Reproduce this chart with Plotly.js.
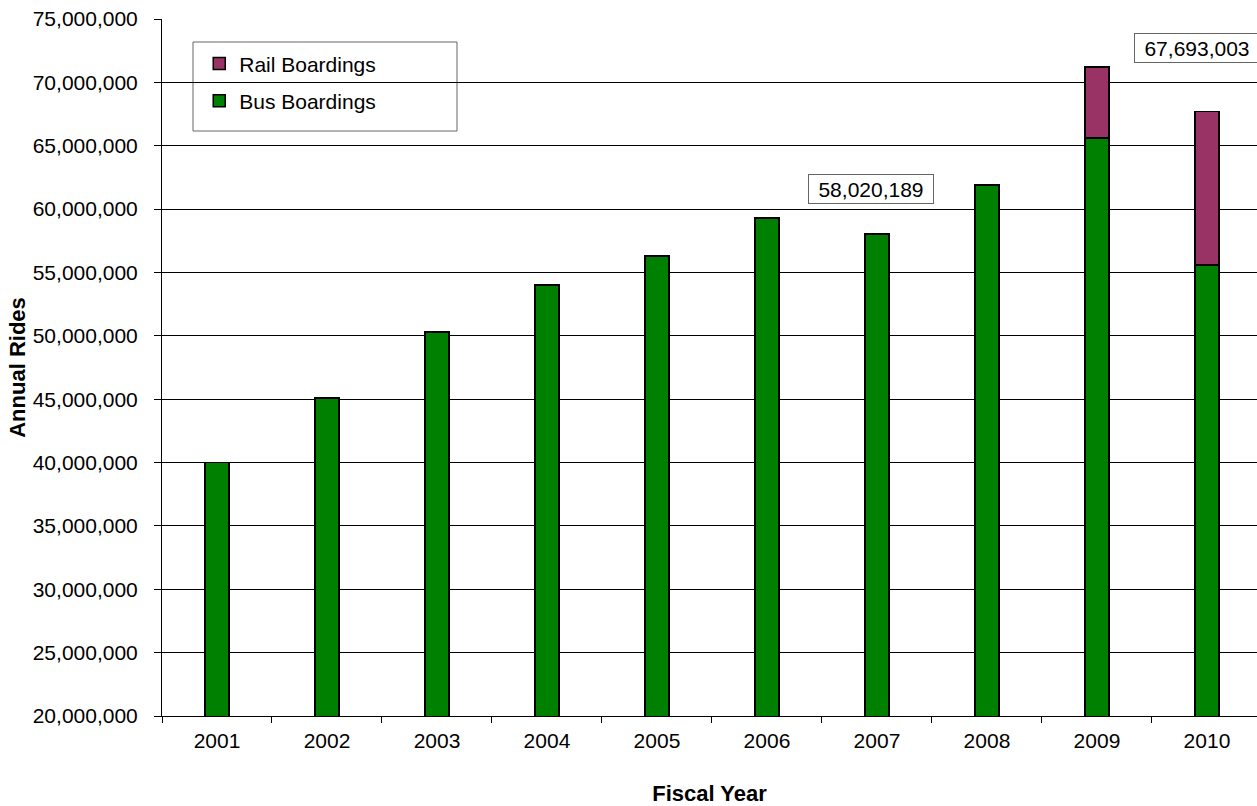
<!DOCTYPE html>
<html>
<head>
<meta charset="utf-8">
<script src="https://cdn.plot.ly/plotly-3.0.1.min.js"></script>
<style>
html,body{margin:0;padding:0;background:#fff;}
#chart{width:1257px;height:806px;}
</style>
</head>
<body>
<div id="chart"></div>
<script>
// Data
const years = ['2001','2002','2003','2004','2005','2006','2007','2008','2009','2010'];
const busBoardings = [40000000, 45100000, 50300000, 54000000, 56300000, 59300000, 58020189, 61900000, 65600000, 55600000];
const railBoardings = [null, null, null, null, null, null, null, null, 5600000, 12093003];
const labelYears = ['2007', '2010'];
const labelTotals = [58020189, 67693003];
const labelTexts = ['58,020,189', '67,693,003'];
const yTickVals = [20000000,25000000,30000000,35000000,40000000,45000000,50000000,55000000,60000000,65000000,70000000,75000000];

const FONT = 'Liberation Sans, Arial, sans-serif';

const traces = [
  {
    type: 'bar', name: 'Bus Boardings', x: years, y: busBoardings, legendgroup: 'bus', legendrank: 2,
    marker: {color: '#008000', line: {color: '#000000', width: 1.5}},
    width: 0.22, hoverinfo: 'x+y'
  },
  {
    type: 'bar', name: 'Rail Boardings', x: years, y: railBoardings, legendgroup: 'rail', legendrank: 1,
    marker: {color: '#993366', line: {color: '#000000', width: 1.5}},
    width: 0.22, hoverinfo: 'x+y'
  }
];

const annotations = labelYears.map((yr, i) => ({
  x: years.indexOf(yr), y: labelTotals[i], xref: 'x', yref: 'y',
  text: labelTexts[i], showarrow: false,
  xanchor: 'center', yanchor: 'bottom',
  width: 118, height: 22, align: 'center', valign: 'middle',
  xshift: i === 0 ? -6 : -10, yshift: i === 0 ? 30 : 49,
  font: {family: FONT, size: 21, color: '#000'},
  bgcolor: '#ffffff', bordercolor: '#666666', borderwidth: 1, borderpad: 3
}));

const layout = {
  width: 1257, height: 806,
  margin: {l: 162, r: 0, t: 19, b: 90, pad: 0},
  paper_bgcolor: '#ffffff', plot_bgcolor: '#ffffff',
  font: {family: FONT, size: 21, color: '#000'},
  barmode: 'stack',
  showlegend: true,
  legend: {
    x: 0.034, y: 0.965, xanchor: 'left', yanchor: 'top',
    bgcolor: 'rgba(0,0,0,0)', borderwidth: 0,
    traceorder: 'grouped',
    font: {family: FONT, size: 21, color: '#000'},
    tracegroupgap: 7
  },
  shapes: [{
    type: 'rect', xref: 'paper', yref: 'paper',
    x0: (193-162)/1095, x1: (457-162)/1095,
    y0: (716-131)/697, y1: (716-42)/697,
    line: {color: '#666666', width: 1}, fillcolor: '#ffffff', layer: 'below'
  }],
  xaxis: {
    type: 'category',
    range: [-0.5, 9.455],
    showline: true, linecolor: '#000', linewidth: 1,
    ticks: 'outside', tickson: 'boundaries', ticklen: 6, tickcolor: '#000', tickwidth: 1,
    ticklabelstandoff: 6,
    showgrid: false, zeroline: false,
    tickfont: {family: FONT, size: 21, color: '#000'},
    title: {text: 'Fiscal Year', font: {family: FONT, size: 22, color: '#000', weight: 'bold'}, standoff: 40},
    automargin: false
  },
  yaxis: {
    range: [20000000, 75000000],
    tickvals: yTickVals, tickformat: ',d',
    showline: true, linecolor: '#000', linewidth: 1,
    ticks: 'outside', ticklen: 7, tickcolor: '#000', tickwidth: 1,
    ticklabelstandoff: 12,
    showgrid: true, gridcolor: '#000', gridwidth: 1,
    zeroline: false,
    tickfont: {family: FONT, size: 21, color: '#000'},
    title: {text: 'Annual Rides', font: {family: FONT, size: 22, color: '#000', weight: 'bold'}, standoff: 0},
    automargin: false
  },
  annotations: annotations
};

Plotly.newPlot('chart', traces, layout, {displayModeBar: false});
</script>
</body>
</html>
